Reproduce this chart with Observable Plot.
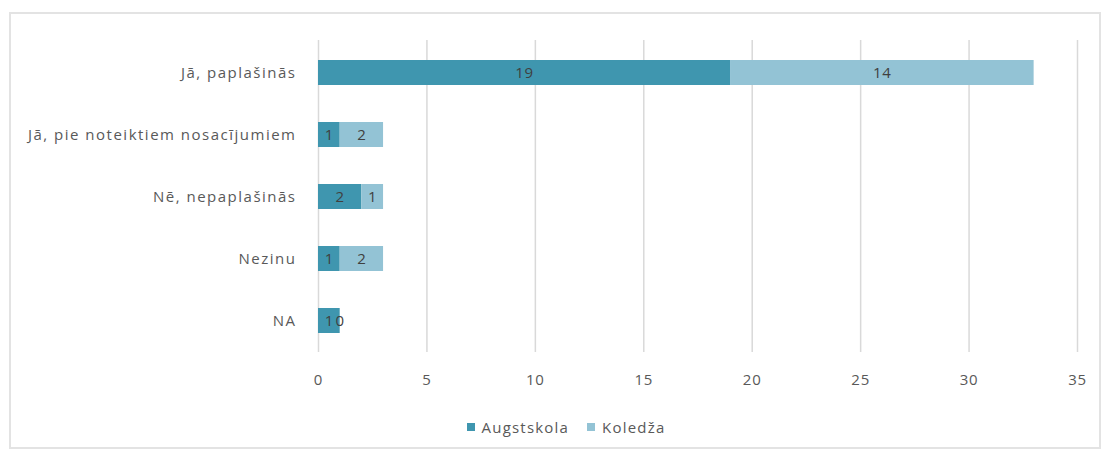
<!DOCTYPE html>
<html>
<head>
<meta charset="utf-8">
<script src="https://cdn.jsdelivr.net/npm/d3@7"></script>
<script src="https://cdn.jsdelivr.net/npm/@observablehq/plot@0.6"></script>
<style>
  html, body { margin: 0; padding: 0; background: #fff; }
  #wrap { position: relative; width: 1102px; height: 456px; overflow: hidden; font-family: "Open Sans", sans-serif; }
  #frame { position: absolute; left: 9px; top: 12px; width: 1092px; height: 437px; border: 2px solid #e3e3e3; box-sizing: border-box; pointer-events: none; }
  #chart { position: absolute; left: 0; top: 0; }
  #legend { position: absolute; left: 0; top: 417px; width: 1132px; display: flex; justify-content: center; gap: 18px; font-size: 15px; letter-spacing: 1.2px; color: #595959; }
  .item { display: flex; align-items: center; gap: 7px; }
  .sw { width: 8px; height: 8px; display: inline-block; }
  .yax text { letter-spacing: 1.5px; }
</style>
</head>
<body>
<div id="wrap">
  <div id="frame"></div>
  <div id="chart"></div>
  <div id="legend"></div>
</div>
<script>
const categories = ["Jā, paplašinās", "Jā, pie noteiktiem nosacījumiem", "Nē, nepaplašinās", "Nezinu", "NA"];
const series = ["Augstskola", "Koledža"];
const augstskola = [19, 1, 2, 1, 1];
const koledza = [14, 2, 1, 2, 0];
const xTicks = [0, 5, 10, 15, 20, 25, 30, 35];
const colors = ["#3f96af", "#93c3d5"];

const data = [];
categories.forEach((c, i) => {
  data.push({category: c, series: series[0], value: augstskola[i]});
  data.push({category: c, series: series[1], value: koledza[i]});
});

const plot = Plot.plot({
  width: 1102,
  height: 400,
  marginLeft: 318,
  marginRight: 25,
  marginTop: 40,
  marginBottom: 48,
  style: {fontFamily: "'Open Sans', sans-serif", background: "transparent", letterSpacing: "0.8px"},
  x: {domain: [0, 35], axis: null},
  y: {domain: categories, paddingInner: 0.6, paddingOuter: 0.3, axis: null},
  color: {domain: series, range: colors},
  marks: [
    Plot.gridX(xTicks, {stroke: "#d9d9d9", strokeOpacity: 1, strokeWidth: 1.5}),
    Plot.barX(data, Plot.stackX({x: "value", y: "category", fill: "series"})),
    Plot.text(data, Plot.stackX({x: "value", y: "category", text: d => String(d.value), fill: "#404040", fontSize: 15})),
    Plot.axisX(xTicks, {tickSize: 0, tickPadding: 22, fontSize: 15, color: "#595959", label: null, tickFormat: d => String(d)}),
    Plot.axisY({tickSize: 0, tickPadding: 22, fontSize: 15, color: "#595959", label: null, className: "yax"})
  ]
});
document.getElementById("chart").appendChild(plot);

const legend = document.getElementById("legend");
series.forEach((s, i) => {
  const item = document.createElement("span");
  item.className = "item";
  const sw = document.createElement("span");
  sw.className = "sw";
  sw.style.background = colors[i];
  const t = document.createElement("span");
  t.textContent = s;
  item.appendChild(sw);
  item.appendChild(t);
  legend.appendChild(item);
});
</script>
</body>
</html>
